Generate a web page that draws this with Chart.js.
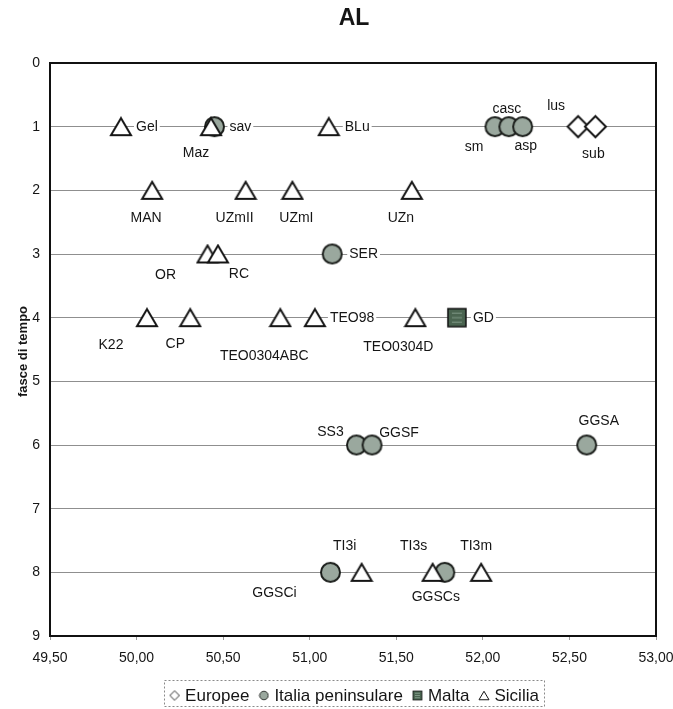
<!DOCTYPE html>
<html>
<head>
<meta charset="utf-8">
<title>AL</title>
<script src="https://cdn.jsdelivr.net/npm/chart.js@4/dist/chart.umd.min.js"></script>
<style>
  html, body { margin: 0; padding: 0; background: #ffffff; }
  #wrap { width: 673px; height: 709px; }
  canvas { display: block; }
</style>
</head>
<body>
<div id="wrap"><canvas id="c" width="673" height="709"></canvas></div>
<script>
// ---- data -------------------------------------------------------------
const seriesNames = ['Europee', 'Italia peninsulare', 'Malta', 'Sicilia'];

const europeeNames = ['lus', 'sub'];
const europeeX = [52.55, 52.65];
const europeeY = [1, 1];

const italiaNames = ['sav', 'sm', 'casc', 'asp', 'SER', 'SS3', 'GGSF', 'GGSA', 'GGSCi', 'GGSCs'];
const italiaX = [50.45, 52.07, 52.15, 52.23, 51.13, 51.27, 51.36, 52.60, 51.12, 51.78];
const italiaY = [1, 1, 1, 1, 3, 6, 6, 6, 8, 8];

const maltaNames = ['GD'];
const maltaX = [51.85];
const maltaY = [4];

const siciliaNames = ['Gel', 'Maz', 'BLu', 'MAN', 'UZmII', 'UZmI', 'UZn', 'OR', 'RC',
  'K22', 'CP', 'TEO0304ABC', 'TEO98', 'TEO0304D', 'TI3i', 'TI3s', 'TI3m'];
const siciliaX = [49.91, 50.43, 51.11, 50.09, 50.63, 50.90, 51.59, 50.41, 50.47,
  50.06, 50.31, 50.83, 51.03, 51.61, 51.30, 51.71, 51.99];
const siciliaY = [1, 1, 1, 2, 2, 2, 2, 3, 3, 4, 4, 4, 4, 4, 8, 8, 8];

const xTicks = [49.5, 50, 50.5, 51, 51.5, 52, 52.5, 53];
const yTicks = [0, 1, 2, 3, 4, 5, 6, 7, 8, 9];

const chartTitle = 'AL';
const yTitle = 'fasce di tempo';

// ---- label placement (anchor, dx, dy in px from the marker) ---------
const labelPlacement = {
  Gel: ['l', 15, 0], Maz: ['c', -15, 26], sav: ['l', 15, 0], BLu: ['l', 16, 0],
  casc: ['c', -2, -18], sm: ['c', -21, 20], asp: ['c', 3, 19],
  lus: ['c', -22, -21], sub: ['c', -2, 27],
  MAN: ['c', -6, 27], UZmII: ['c', -11, 27], UZmI: ['c', 4, 27], UZn: ['c', -11, 27],
  OR: ['c', -42, 21], RC: ['c', 21, 20], SER: ['l', 17, 0],
  K22: ['c', -36, 27], CP: ['c', -15, 26], TEO0304ABC: ['c', -16, 38],
  TEO98: ['l', 15, 0], TEO0304D: ['c', -17, 29], GD: ['l', 16, 0],
  SS3: ['c', -26, -13], GGSF: ['c', 27, -12], GGSA: ['c', 12, -24],
  GGSCi: ['c', -56, 20], TI3i: ['c', -17, -27], TI3s: ['c', -19, -27],
  TI3m: ['c', -5, -27], GGSCs: ['c', -9, 24]
};

const FONT = '"Liberation Sans", Arial, Helvetica, sans-serif';
const INK = '#151515';
const circleFill = '#9aa89e';
const squareFill = '#4a6450';

// ---- marker images ----------------------------------------------------
function makeMarker(kind, scale) {
  const s = scale || 1;
  const c = document.createElement('canvas');
  const g = c.getContext('2d');
  const lw = 2 * s;
  if (kind === 'triangle') {
    const w = 20 * s, h = 17 * s;
    c.width = Math.ceil(w + lw * 2); c.height = Math.ceil(h + lw * 2);
    const cx = c.width / 2, cy = c.height / 2;
    g.beginPath();
    g.moveTo(cx, cy - h / 2);
    g.lineTo(cx + w / 2, cy + h / 2);
    g.lineTo(cx - w / 2, cy + h / 2);
    g.closePath();
    g.fillStyle = '#ffffff'; g.fill();
    g.lineJoin = 'miter'; g.lineWidth = lw; g.strokeStyle = INK; g.stroke();
  } else if (kind === 'circle') {
    const r = 9.5 * s;
    c.width = Math.ceil(2 * r + lw * 2); c.height = c.width;
    g.beginPath();
    g.arc(c.width / 2, c.height / 2, r, 0, Math.PI * 2);
    g.fillStyle = circleFill; g.fill();
    g.lineWidth = lw; g.strokeStyle = '#1c1f1c'; g.stroke();
  } else if (kind === 'diamond') {
    const r = 10.5 * s;
    c.width = Math.ceil(2 * r + lw * 2); c.height = c.width;
    const cx = c.width / 2, cy = c.height / 2;
    g.beginPath();
    g.moveTo(cx, cy - r); g.lineTo(cx + r, cy); g.lineTo(cx, cy + r); g.lineTo(cx - r, cy);
    g.closePath();
    g.fillStyle = '#ffffff'; g.fill();
    g.lineWidth = lw; g.strokeStyle = INK; g.stroke();
  } else {
    const w = 18 * s;
    c.width = Math.ceil(w + lw * 2); c.height = c.width;
    const o = (c.width - w) / 2;
    g.fillStyle = squareFill; g.fillRect(o, o, w, w);
    g.strokeStyle = '#7f9886'; g.lineWidth = 1;
    for (let i = 1; i <= 3; i++) {
      const yy = o + (w * i) / 4;
      g.beginPath(); g.moveTo(o + 4 * s, yy); g.lineTo(o + w - 4 * s, yy); g.stroke();
    }
    g.lineWidth = lw * 0.75; g.strokeStyle = '#111'; g.strokeRect(o, o, w, w);
  }
  return c;
}

const markers = {
  diamond: makeMarker('diamond'), circle: makeMarker('circle'),
  square: makeMarker('square'), triangle: makeMarker('triangle')
};
const legendMarkers = {
  diamond: makeMarker('diamond', 0.45), circle: makeMarker('circle', 0.45),
  square: makeMarker('square', 0.5), triangle: makeMarker('triangle', 0.5)
};

function points(xs, ys) { return xs.map((x, i) => ({ x: x, y: ys[i] })); }

const datasets = [
  { label: seriesNames[0], data: points(europeeX, europeeY), names: europeeNames, kind: 'diamond', order: 3 },
  { label: seriesNames[1], data: points(italiaX, italiaY), names: italiaNames, kind: 'circle', order: 2 },
  { label: seriesNames[2], data: points(maltaX, maltaY), names: maltaNames, kind: 'square', order: 1 },
  { label: seriesNames[3], data: points(siciliaX, siciliaY), names: siciliaNames, kind: 'triangle', order: 0 }
].map(d => Object.assign(d, { pointStyle: markers[d.kind], pointRadius: 10, showLine: false }));

// ---- drawing helpers --------------------------------------------------
const decor = {
  id: 'decor',
  beforeDatasetsDraw(chart) {
    const { ctx, chartArea: a } = chart;
    ctx.save();
    // plot frame
    ctx.strokeStyle = '#111'; ctx.lineWidth = 2;
    ctx.strokeRect(a.left, a.top, a.right - a.left, a.bottom - a.top);
    ctx.restore();
  },
  afterDatasetsDraw(chart) {
    const { ctx } = chart;
    ctx.save();
    ctx.font = '14px ' + FONT;
    ctx.textBaseline = 'middle';
    chart.data.datasets.forEach((ds, di) => {
      const meta = chart.getDatasetMeta(di);
      meta.data.forEach((pt, i) => {
        const name = ds.names[i];
        const p = labelPlacement[name] || ['c', 0, 24];
        const tx = pt.x + p[1], ty = pt.y + p[2];
        const w = ctx.measureText(name).width;
        if (p[0] === 'l') {
          ctx.fillStyle = '#ffffff';
          ctx.fillRect(tx - 2, ty - 8, w + 4, 16);
          ctx.textAlign = 'left';
        } else {
          ctx.textAlign = 'center';
        }
        ctx.fillStyle = INK;
        ctx.fillText(name, tx, ty + 0.5);
      });
    });
    ctx.restore();
  },
  afterDraw(chart) {
    const { ctx, chartArea: a } = chart;
    ctx.save();
    // title
    ctx.fillStyle = INK;
    ctx.font = 'bold 23px ' + FONT;
    ctx.textAlign = 'center'; ctx.textBaseline = 'middle';
    ctx.fillText(chartTitle, 354, 19);
    // y-axis title
    ctx.translate(23, (a.top + a.bottom) / 2 + 2);
    ctx.rotate(-Math.PI / 2);
    ctx.font = 'bold 13px ' + FONT;
    ctx.fillText(yTitle, 0, 0);
    ctx.restore();

    // legend
    ctx.save();
    ctx.font = '17px ' + FONT;
    ctx.textBaseline = 'alphabetic';
    ctx.textAlign = 'left';
    const gap = 5, itemGap = 9;
    const items = chart.data.datasets.map(ds => ({
      img: legendMarkers[ds.kind], text: ds.label, tw: ctx.measureText(ds.label).width
    }));
    let total = 0;
    items.forEach((it, i) => { total += 11 + gap + it.tw + (i < items.length - 1 ? itemGap : 0); });
    let x = 354 - total / 2;
    const base = 701, midY = 695.5;
    // dashed frame
    ctx.strokeStyle = '#8a8a8a'; ctx.lineWidth = 1; ctx.setLineDash([2, 2]);
    ctx.strokeRect(Math.round(x - 5) + 0.5, 680.5, Math.round(total + 10), 26);
    ctx.setLineDash([]);
    items.forEach(it => {
      ctx.drawImage(it.img, x + 5.5 - it.img.width / 2, midY - it.img.height / 2);
      x += 11 + gap;
      ctx.fillStyle = INK;
      ctx.fillText(it.text, x, base);
      x += it.tw + itemGap;
    });
    ctx.restore();
  }
};

new Chart(document.getElementById('c'), {
  type: 'scatter',
  data: { datasets: datasets },
  options: {
    responsive: false,
    animation: false,
    devicePixelRatio: 1,
    layout: { padding: { top: 63, right: 17, bottom: 43, left: 0 } },
    plugins: { legend: { display: false }, title: { display: false }, tooltip: { enabled: false } },
    scales: {
      x: {
        type: 'linear', min: xTicks[0], max: xTicks[xTicks.length - 1],
        afterBuildTicks: s => { s.ticks = xTicks.map(v => ({ value: v })); },
        afterFit: s => { s.height = 30; s.paddingLeft = 0; s.paddingRight = 0; },
        border: { display: false },
        grid: { drawOnChartArea: false, drawTicks: true, tickLength: 4, color: '#9a9a9a' },
        ticks: {
          color: INK, padding: 10, maxRotation: 0,
          font: { family: FONT, size: 14 },
          callback: v => Number(v).toFixed(2).replace('.', ',')
        }
      },
      y: {
        type: 'linear', reverse: true, min: yTicks[0], max: yTicks[yTicks.length - 1],
        afterBuildTicks: s => { s.ticks = yTicks.map(v => ({ value: v })); },
        afterFit: s => { s.width = 50; s.paddingTop = 0; s.paddingBottom = 0; },
        border: { display: false },
        grid: { drawTicks: false, color: '#8f8f8f', lineWidth: 1 },
        ticks: { color: INK, padding: 10, font: { family: FONT, size: 14 } }
      }
    }
  },
  plugins: [decor]
});
</script>
</body>
</html>
